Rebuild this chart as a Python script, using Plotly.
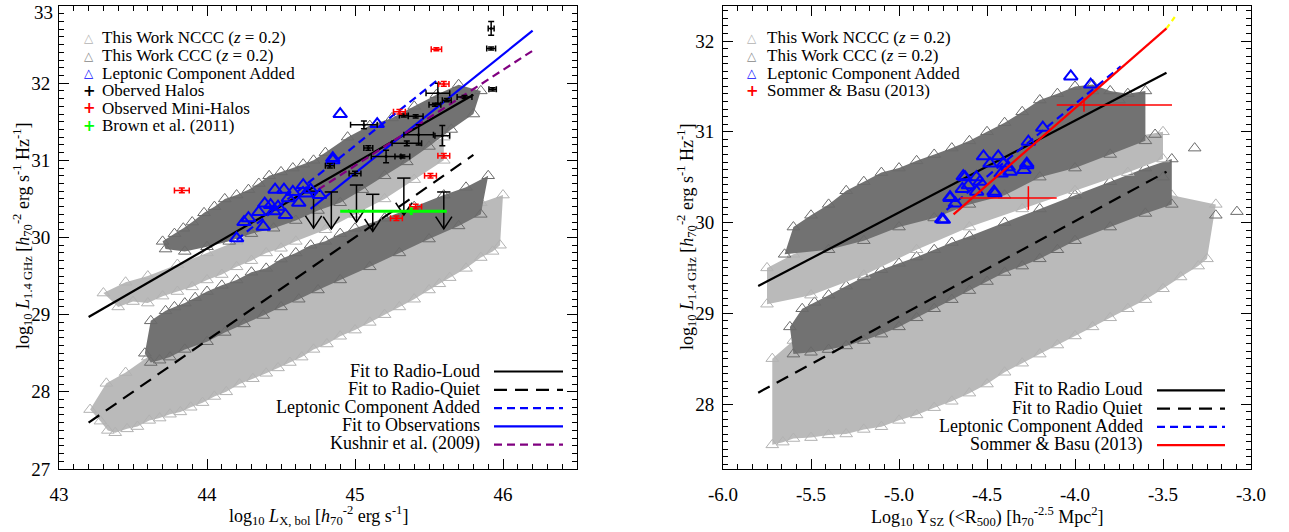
import plotly.graph_objects as go

# ---------------- LEFT PANEL DATA (log10 L_X,bol vs log10 L_1.4GHz) ----------------
# simulated clouds: outline triangles of each dense cloud
L_nccc_rq_x = [43.21, 43.28, 43.33, 43.38, 43.46, 43.53, 43.61, 43.68, 43.75, 43.82, 43.89, 43.97, 44.05, 44.13, 44.22, 44.31,
               44.4, 44.48, 44.56, 44.64, 44.72, 44.81, 44.9, 45.0, 45.1, 45.2, 45.3, 45.4, 45.5, 45.57, 45.64, 45.75, 45.85,
               45.93, 45.98,
               46.0, 45.85, 45.7, 45.5, 45.3, 45.1, 44.9, 44.7, 44.5, 44.3, 44.0, 43.8, 43.6, 43.45, 43.32]
L_nccc_rq_y = [27.77, 27.62, 27.5, 27.47, 27.52, 27.55, 27.63, 27.66, 27.71, 27.74, 27.8, 27.86, 27.94, 28.0, 28.1, 28.17,
               28.24, 28.31, 28.38, 28.45, 28.55, 28.62, 28.72, 28.8, 28.9, 29.0, 29.1, 29.2, 29.32, 29.4, 29.48, 29.6, 29.74,
               29.82, 29.9,
               30.55, 30.45, 30.3, 30.1, 29.9, 29.75, 29.6, 29.4, 29.2, 29.0, 28.75, 28.6, 28.45, 28.25, 28.11]
L_ccc_rq_x = [43.58, 43.62, 43.68, 43.75, 43.85, 44.0, 44.12, 44.25, 44.38, 44.5, 44.62, 44.75, 44.9, 45.1, 45.3, 45.5, 45.7, 45.85,
              45.9, 45.75, 45.6, 45.4, 45.2, 45.0, 44.9, 44.8, 44.7, 44.6, 44.5, 44.4, 44.3, 44.2, 44.1, 44.0, 43.92, 43.85,
              43.78, 43.72, 43.62]
L_ccc_rq_y = [28.5, 28.38, 28.41, 28.45, 28.55, 28.65, 28.77, 28.88, 28.99, 29.1, 29.2, 29.32, 29.45, 29.62, 29.8, 29.98, 30.15, 30.3,
              30.8, 30.65, 30.55, 30.4, 30.25, 30.12, 30.05, 29.95, 29.9, 29.8, 29.72, 29.6, 29.55, 29.45, 29.38, 29.3, 29.22,
              29.15, 29.1, 29.05, 28.92]
L_nccc_rl_x = [43.3, 43.4, 43.5, 43.6, 43.7, 43.8, 43.9, 44.0, 44.1, 44.2, 44.3, 44.4, 44.5, 44.6, 44.8, 45.0, 45.2, 45.4, 45.6,
               45.6, 45.3, 45.0, 44.7, 44.4, 44.2, 44.0, 43.8, 43.6, 43.45]
L_nccc_rl_y = [29.28, 29.1, 29.17, 29.15, 29.24, 29.3, 29.36, 29.45, 29.52, 29.62, 29.7, 29.8, 29.86, 29.95, 30.1, 30.3, 30.5, 30.75, 31.0,
               31.3, 31.0, 30.7, 30.45, 30.2, 29.95, 29.8, 29.65, 29.5, 29.42]
L_ccc_rl_x = [43.72, 43.85, 44.0, 44.15, 44.3, 44.45, 44.6, 44.75, 44.9, 45.05, 45.2, 45.35, 45.5, 45.65, 45.8,
              45.85, 45.7, 45.55, 45.4, 45.25, 45.1, 44.95, 44.8, 44.72, 44.65, 44.58, 44.5, 44.42, 44.35, 44.28, 44.2,
              44.12, 44.05, 43.98, 43.9, 43.84, 43.78, 43.7]
L_ccc_rl_y = [29.85, 29.82, 29.88, 29.95, 30.05, 30.12, 30.22, 30.35, 30.45, 30.62, 30.8, 30.98, 31.18, 31.4, 31.6,
              31.9, 31.98, 31.85, 31.7, 31.55, 31.45, 31.3, 31.1, 31.0, 30.95, 30.9, 30.85, 30.8, 30.7, 30.62, 30.55,
              30.5, 30.4, 30.32, 30.2, 30.12, 30.05, 29.95]

# leptonic component added (blue triangles)
L_lep_x = [44.2, 44.28, 44.38, 44.39, 44.45, 44.48, 44.53, 44.52, 44.55, 44.58, 44.65, 44.67, 44.76, 44.85, 44.46, 44.43,
           44.85, 44.9, 45.15, 44.62, 44.7, 44.35, 44.25]
L_lep_y = [29.99, 30.25, 30.14, 30.44, 30.34, 30.40, 30.29, 30.62, 30.51, 30.59, 30.68, 30.57, 30.55, 31.03, 30.62, 30.42,
           31.0, 31.6, 31.47, 30.45, 30.62, 30.33, 30.2]

# observed halos (black)
halo_x = [45.92, 45.92, 45.93, 45.56, 45.74, 45.54, 45.62, 45.41, 45.33, 45.06, 45.43, 45.59, 45.35, 45.09, 45.21, 45.32, 44.83, 45.0]
halo_y = [32.71, 32.45, 31.92, 31.87, 31.82, 31.72, 31.78, 31.57, 31.58, 31.46, 31.33, 31.32, 31.22, 31.16, 31.05, 31.05, 30.93, 30.83]
halo_xe = [0.02, 0.03, 0.025, 0.08, 0.05, 0.04, 0.03, 0.05, 0.03, 0.09, 0.1, 0.05, 0.1, 0.03, 0.1, 0.05, 0.03, 0.04]
halo_ye = [0.09, 0.02, 0.02, 0.13, 0.02, 0.02, 0.02, 0.02, 0.02, 0.05, 0.13, 0.13, 0.03, 0.03, 0.08, 0.02, 0.03, 0.03]
# upper limits on halos
lim_x = [44.72, 44.84, 45.01, 45.12, 45.33, 45.6]
lim_y = [30.6, 30.59, 30.68, 30.56, 30.77, 30.59]

# observed mini-halos (red)
mini_x = [45.55, 45.60, 45.30, 45.60, 45.51, 45.41, 45.28, 43.83]
mini_y = [32.44, 31.99, 31.63, 31.06, 30.80, 30.40, 30.25, 30.61]
mini_xe = [0.035, 0.035, 0.04, 0.04, 0.04, 0.04, 0.04, 0.05]
mini_ye = [0.02, 0.03, 0.03, 0.03, 0.03, 0.03, 0.03, 0.03]

# Brown et al. (2011)
brown_x = [45.38]
brown_y = [30.34]
brown_xe_minus = [0.48]
brown_xe_plus = [0.24]
brown_ye = [0.05]

# fits (end points)
fit_rl_L_x = [43.2, 45.8]
fit_rl_L_y = [28.97, 31.85]
fit_rq_L_x = [43.2, 45.8]
fit_rq_L_y = [27.6, 31.07]
fit_lep_L_x = [44.2, 45.57]
fit_lep_L_y = [29.97, 32.06]
fit_obs_L_x = [44.7, 46.2]
fit_obs_L_y = [30.37, 32.68]
kushnir_x = [44.75, 46.2]
kushnir_y = [30.62, 32.42]

# ---------------- RIGHT PANEL DATA (log10 Y_SZ vs log10 L_1.4GHz) ----------------
R_nccc_rq_x = [-5.72, -5.66, -5.6, -5.5, -5.4, -5.3, -5.2, -5.1, -5.0, -4.9, -4.8, -4.7, -4.6, -4.5, -4.4, -4.3, -4.2,
               -4.1, -4.0, -3.9, -3.8, -3.7, -3.6, -3.5, -3.4, -3.3, -3.25,
               -3.2, -3.45, -3.6, -3.8, -4.0, -4.2, -4.4, -4.6, -4.8, -5.0, -5.2, -5.4, -5.6, -5.72]
R_nccc_rq_y = [27.55, 27.58, 27.62, 27.63, 27.66, 27.67, 27.72, 27.75, 27.82, 27.88, 27.96, 28.03, 28.12, 28.22, 28.35, 28.45, 28.55,
               28.65, 28.75, 28.85, 28.95, 29.05, 29.15, 29.27, 29.4, 29.52, 29.6,
               30.2, 30.3, 30.25, 30.1, 29.95, 29.8, 29.65, 29.45, 29.25, 29.05, 28.9, 28.8, 28.7, 28.5]
R_ccc_rq_x = [-5.6, -5.5, -5.4, -5.3, -5.2, -5.1, -5.0, -4.9, -4.8, -4.7, -4.6, -4.5, -4.4, -4.3, -4.2, -4.1, -4.0, -3.8, -3.6,
              -3.45,
              -3.45, -3.6, -3.8, -4.0, -4.2, -4.4, -4.6, -4.7, -4.8, -4.9, -5.0, -5.1, -5.2, -5.3, -5.4, -5.48, -5.55, -5.62]
R_ccc_rq_y = [28.55, 28.57, 28.6, 28.64, 28.7, 28.77, 28.85, 28.95, 29.05, 29.15, 29.25, 29.35, 29.45, 29.52, 29.6, 29.7, 29.8, 29.95,
              30.1, 30.2,
              30.7, 30.6, 30.45, 30.3, 30.15, 30.0, 29.85, 29.78, 29.7, 29.62, 29.55, 29.48, 29.4, 29.3, 29.2, 29.12, 29.05, 28.85]
R_nccc_rl_x = [-5.75, -5.5, -5.2, -4.9, -4.6, -4.3, -4.0, -3.7, -3.5,
               -3.5, -3.8, -4.1, -4.4, -4.7, -5.0, -5.3, -5.6, -5.75]
R_nccc_rl_y = [29.1, 29.2, 29.42, 29.7, 29.95, 30.15, 30.35, 30.55, 30.7,
               31.0, 30.9, 30.7, 30.5, 30.3, 30.1, 29.85, 29.65, 29.5]
R_ccc_rl_x = [-5.65, -5.4, -5.2, -5.0, -4.8, -4.6, -4.4, -4.2, -4.0, -3.8, -3.6,
              -3.6, -3.7, -3.8, -3.9, -4.0, -4.1, -4.2, -4.3, -4.4, -4.5, -4.6, -4.7, -4.8, -4.9, -5.0, -5.1, -5.2, -5.3,
              -5.4, -5.5, -5.6]
R_ccc_rl_y = [29.65, 29.7, 29.8, 29.95, 30.05, 30.2, 30.3, 30.5, 30.6, 30.75, 30.9,
              31.45, 31.42, 31.45, 31.52, 31.5, 31.42, 31.35, 31.22, 31.1, 31.0, 30.9, 30.82, 30.75, 30.68, 30.6, 30.55,
              30.45, 30.35, 30.2, 30.08, 29.95]
R_out_dark_x = [-3.545, -3.32, -3.2, -3.08, -3.9, -3.75, -3.5]
R_out_dark_y = [30.97, 30.82, 30.08, 30.12, 31.45, 31.35, 30.5]

R_lep_x = [-4.024, -3.911, -4.183, -4.265, -4.274, -4.29, -4.369, -4.407, -4.436, -4.483, -4.455, -4.54, -4.559, -4.606,
           -4.625, -4.64, -4.71, -4.68, -4.757, -4.42, -4.38, -4.52, -4.56, -4.748, -4.71, -4.635, -4.46, -4.274]
R_lep_y = [31.61, 31.52, 31.045, 30.89, 30.65, 30.58, 30.56, 30.65, 30.73, 30.65, 30.32, 30.45, 30.34, 30.41,
           30.50, 30.37, 30.28, 30.21, 30.035, 30.54, 30.61, 30.73, 30.5, 30.03, 30.27, 30.51, 30.34, 30.63]

sb_x = [-4.265, -3.949]
sb_y = [30.27, 31.295]
sb_xe_minus = [0.388, 0.155]
sb_xe_plus = [0.161, 0.5]
sb_ye = [0.13, 0.075]

fit_rl_R_x = [-5.8, -3.48]
fit_rl_R_y = [29.30, 31.65]
fit_rq_R_x = [-5.8, -3.48]
fit_rq_R_y = [28.125, 30.56]
fit_lep_R_x = [-4.73, -3.74]
fit_lep_R_y = [30.14, 31.72]
sb_line_x = [-4.69, -3.48]
sb_line_y = [30.09, 32.14]
yellow_x = [-3.48, -3.42]
yellow_y = [32.14, 32.30]

# tick labels
L_xticks = [43, 44, 45, 46]
L_yticks = [27, 28, 29, 30, 31, 32, 33]
R_xticks = [-6.0, -5.5, -5.0, -4.5, -4.0, -3.5, -3.0]
R_xtick_text = ["-6.0", "-5.5", "-5.0", "-4.5", "-4.0", "-3.5", "-3.0"]
R_yticks = [28, 29, 30, 31, 32]

# ---------------- FIGURE ----------------
W, H = 1289, 532
ML, MR, MT, MB = 59, 38, 6, 63
PW, PH = W - ML - MR, H - MT - MB
FONT = "Liberation Serif"
LIGHT, LIGHT_FILL = "#b2b2b2", "#bababa"
DARK, DARK_FILL = "#6a6a6a", "#727272"


def px(xp):
    return (xp - ML) / PW


def py(yp):
    return 1 - (yp - MT) / PH


fig = go.Figure()


def cloud(xs, ys, line_col, fill_col, xa, ya):
    fig.add_trace(go.Scatter(x=xs, y=ys, mode="markers", fill="toself", fillcolor=fill_col,
                             marker=dict(symbol="triangle-up-open", size=11, color=line_col, line=dict(width=1)),
                             xaxis=xa, yaxis=ya, hoverinfo="skip", showlegend=False))


def line(xs, ys, col, dash, xa, ya, width=2.2):
    fig.add_trace(go.Scatter(x=xs, y=ys, mode="lines", line=dict(color=col, dash=dash, width=width),
                             xaxis=xa, yaxis=ya, hoverinfo="skip", showlegend=False))


def errpts(xs, ys, xem, xep, ye, col, xa, ya, width=1.5, cap=3, size=3):
    fig.add_trace(go.Scatter(x=xs, y=ys, mode="markers",
                             marker=dict(symbol="circle", size=size, color=col),
                             error_x=dict(type="data", array=xep, arrayminus=xem, color=col, thickness=width, width=cap),
                             error_y=dict(type="data", array=ye, color=col, thickness=width, width=cap),
                             xaxis=xa, yaxis=ya, hoverinfo="skip", showlegend=False))


# left clouds
cloud(L_nccc_rq_x, L_nccc_rq_y, LIGHT, LIGHT_FILL, "x", "y")
cloud(L_ccc_rq_x, L_ccc_rq_y, DARK, DARK_FILL, "x", "y")
cloud(L_nccc_rl_x, L_nccc_rl_y, LIGHT, LIGHT_FILL, "x", "y")
cloud(L_ccc_rl_x, L_ccc_rl_y, DARK, DARK_FILL, "x", "y")

# left fits
line(fit_rl_L_x, fit_rl_L_y, "black", "solid", "x", "y")
line(fit_rq_L_x, fit_rq_L_y, "black", "13px,8px", "x", "y")
line(fit_obs_L_x, fit_obs_L_y, "#0000ff", "solid", "x", "y")
line(fit_lep_L_x, fit_lep_L_y, "#0000ff", "8px,5px", "x", "y")
line(kushnir_x, kushnir_y, "#800080", "8px,5px", "x", "y")

# upper limits (cap, shaft, open arrow head)
AL, CAPW, HW, HH = 0.48, 0.045, 0.055, 0.16
ax_, ay_ = [], []
for xv, yv in zip(lim_x, lim_y):
    tip = yv - AL
    ax_ += [xv - CAPW, xv + CAPW, None, xv, xv, None, xv - HW, xv, xv + HW, None]
    ay_ += [yv, yv, None, yv, tip, None, tip + HH, tip, tip + HH, None]
fig.add_trace(go.Scatter(x=ax_, y=ay_, mode="lines", line=dict(color="black", width=1.5),
                         xaxis="x", yaxis="y", hoverinfo="skip", showlegend=False))

# blue triangles
fig.add_trace(go.Scatter(x=L_lep_x, y=L_lep_y, mode="markers",
                         marker=dict(symbol="triangle-up-open", size=12, color="#0000ff", line=dict(width=2)),
                         xaxis="x", yaxis="y", hoverinfo="skip", showlegend=False))

errpts(halo_x, halo_y, halo_xe, halo_xe, halo_ye, "black", "x", "y")
errpts(mini_x, mini_y, mini_xe, mini_xe, mini_ye, "#ff0000", "x", "y")
errpts(brown_x, brown_y, brown_xe_minus, brown_xe_plus, brown_ye, "#00ff00", "x", "y", width=3, cap=0, size=2)

# right clouds
cloud(R_nccc_rq_x, R_nccc_rq_y, LIGHT, LIGHT_FILL, "x2", "y2")
cloud(R_ccc_rq_x, R_ccc_rq_y, DARK, DARK_FILL, "x2", "y2")
cloud(R_nccc_rl_x, R_nccc_rl_y, LIGHT, LIGHT_FILL, "x2", "y2")
cloud(R_ccc_rl_x, R_ccc_rl_y, DARK, DARK_FILL, "x2", "y2")
fig.add_trace(go.Scatter(x=R_out_dark_x, y=R_out_dark_y, mode="markers",
                         marker=dict(symbol="triangle-up-open", size=11, color=DARK, line=dict(width=1)),
                         xaxis="x2", yaxis="y2", hoverinfo="skip", showlegend=False))

line(fit_rl_R_x, fit_rl_R_y, "black", "solid", "x2", "y2")
line(fit_rq_R_x, fit_rq_R_y, "black", "13px,8px", "x2", "y2")
fig.add_trace(go.Scatter(x=R_lep_x, y=R_lep_y, mode="markers",
                         marker=dict(symbol="triangle-up-open", size=12, color="#0000ff", line=dict(width=2)),
                         xaxis="x2", yaxis="y2", hoverinfo="skip", showlegend=False))
line(fit_lep_R_x, fit_lep_R_y, "#0000ff", "8px,5px", "x2", "y2")
line(yellow_x, yellow_y, "#ffff00", "5px,4px", "x2", "y2")
line(sb_line_x, sb_line_y, "#ff0000", "solid", "x2", "y2")
errpts(sb_x, sb_y, sb_xe_minus, sb_xe_plus, sb_ye, "#ff0000", "x2", "y2", width=1.5, cap=0, size=2)

# ---------------- AXES ----------------
TFS = 19
axis_common = dict(showgrid=False, zeroline=False, showline=True, linecolor="black", linewidth=1,
                   mirror="allticks", ticks="inside", ticklen=10, tickcolor="black", tickwidth=1,
                   tickfont=dict(family=FONT, size=TFS, color="black"))
fig.update_layout(
    width=W, height=H, margin=dict(l=ML, r=MR, t=MT, b=MB),
    paper_bgcolor="white", plot_bgcolor="white", showlegend=False,
    font=dict(family=FONT, color="black"),
    xaxis=dict(domain=[0, (577 - ML) / PW], range=[43, 46.5], tickvals=L_xticks,
               ticktext=[str(v) for v in L_xticks], ticklabelstandoff=8,
               minor=dict(dtick=0.1, tick0=43, ticks="inside", ticklen=5, tickcolor="black"), anchor="y",
               **axis_common),
    yaxis=dict(domain=[0, 1], range=[27, 33], tickvals=L_yticks[:-1], ticktext=[str(v) for v in L_yticks[:-1]],
               ticklabelstandoff=4,
               minor=dict(dtick=0.1, tick0=27, ticks="inside", ticklen=5, tickcolor="black"), anchor="x",
               **axis_common),
    xaxis2=dict(domain=[(723 - ML) / PW, 1], range=[-6, -3], tickvals=R_xticks, ticktext=R_xtick_text,
                ticklabelstandoff=8,
                minor=dict(dtick=1 / 12, tick0=-6, ticks="inside", ticklen=5, tickcolor="black"), anchor="y2",
                **axis_common),
    yaxis2=dict(domain=[0, 1], range=[27.284, 32.386], tickvals=R_yticks, ticktext=[str(v) for v in R_yticks],
                ticklabelstandoff=4,
                minor=dict(dtick=1 / 12, tick0=28, ticks="inside", ticklen=5, tickcolor="black"), anchor="x2",
                **axis_common),
)

ann = []
LFS = 18
TOPFS = 17


def text(xp, yp, s, xanchor="left", size=LFS, angle=0, yanchor="middle"):
    ann.append(dict(x=px(xp), y=py(yp), xref="paper", yref="paper", text=s, showarrow=False,
                    xanchor=xanchor, yanchor=yanchor, textangle=angle,
                    font=dict(family=FONT, size=size, color="black")))


# top tick label of the left y axis (sits just under the frame top)
ann.append(dict(x=0, y=L_yticks[-1], xref="paper", yref="y", text=str(L_yticks[-1]), showarrow=False,
                xanchor="right", yanchor="top", xshift=-4, yshift=6,
                font=dict(family=FONT, size=TFS, color="black")))

# axis titles
text(318, 515, "log<sub>10</sub> <i>L</i><sub>X, bol</sub> [<i>h</i><sub>70</sub><sup>-2</sup> erg s<sup>-1</sup>]",
     xanchor="center", size=18)
text(987, 516, "Log<sub>10</sub> Y<sub>SZ</sub> (&lt;R<sub>500</sub>) [h<sub>70</sub><sup>-2.5</sup> Mpc<sup>2</sup>]",
     xanchor="center", size=18)
ytitle = "log<sub>10</sub> <i>L</i><sub>1.4 GHz</sub> [<i>h</i><sub>70</sub><sup>-2</sup> erg s<sup>-1</sup> Hz<sup>-1</sup>]"
text(22, 236, ytitle, xanchor="center", size=18, angle=-90)
text(686, 236, ytitle, xanchor="center", size=18, angle=-90)

# top-left legends
SYM = "DejaVu Sans"


def legrow(xs, xt, yp, glyph, col, label, gsize=12, bold=False):
    g = f"<b>{glyph}</b>" if bold else glyph
    ann.append(dict(x=px(xs), y=py(yp), xref="paper", yref="paper", text=g, showarrow=False,
                    xanchor="center", yanchor="middle",
                    font=dict(family=SYM, size=gsize, color=col)))
    text(xt, yp, label, size=TOPFS)


rows_L = [38, 55.6, 73.2, 90.8, 108.4, 126]
legrow(89, 100, rows_L[0], "△", LIGHT, "This Work NCCC (<i>z</i> = 0.2)")
legrow(89, 100, rows_L[1], "△", "#888888", "This Work CCC (<i>z</i> = 0.2)")
legrow(89, 100, rows_L[2], "△", "#0000ff", "Leptonic Component Added", bold=True)
legrow(89, 100, rows_L[3], "+", "black", "Oberved Halos", gsize=15, bold=True)
legrow(89, 100, rows_L[4], "+", "#ff0000", "Observed Mini-Halos", gsize=15, bold=True)
legrow(89, 100, rows_L[5], "+", "#00ff00", "Brown et al. (2011)", gsize=15, bold=True)

rows_R = [38, 55.6, 73.2, 90.8]
legrow(752, 765, rows_R[0], "△", LIGHT, "This Work NCCC (<i>z</i> = 0.2)")
legrow(752, 765, rows_R[1], "△", "#888888", "This Work CCC (<i>z</i> = 0.2)")
legrow(752, 765, rows_R[2], "△", "#0000ff", "Leptonic Component Added", bold=True)
legrow(752, 765, rows_R[3], "+", "#ff0000", "Sommer &amp; Basu (2013)", gsize=15, bold=True)

# bottom-right legends
shapes = []


def legline(xt, x0, x1, yp, label, col, dash):
    text(xt, yp, label, xanchor="right")
    shapes.append(dict(type="line", xref="paper", yref="paper", x0=px(x0), x1=px(x1), y0=py(yp + 1), y1=py(yp + 1),
                       line=dict(color=col, width=2.2, dash=dash)))


bl = [370.5, 388.8, 407.1, 425.4, 443.7]
legline(482, 494, 563, bl[0], "Fit to Radio-Loud", "black", "solid")
legline(482, 494, 563, bl[1], "Fit to Radio-Quiet", "black", "13px,8px")
legline(482, 494, 563, bl[2], "Leptonic Component Added", "#0000ff", "8px,5px")
legline(482, 494, 563, bl[3], "Fit to Observations", "#0000ff", "solid")
legline(482, 494, 563, bl[4], "Kushnir et al. (2009)", "#800080", "8px,5px")

br = [389.3, 407.6, 425.9, 444.2]
legline(1145, 1157, 1225, br[0], "Fit to Radio Loud", "black", "solid")
legline(1145, 1157, 1225, br[1], "Fit to Radio Quiet", "black", "13px,8px")
legline(1145, 1157, 1225, br[2], "Leptonic Component Added", "#0000ff", "8px,5px")
legline(1145, 1157, 1225, br[3], "Sommer &amp; Basu (2013)", "#ff0000", "solid")

fig.update_layout(annotations=ann, shapes=shapes)
fig.write_html("out.html", config={"displayModeBar": False},
               post_script="document.body.style.margin='0px';")
